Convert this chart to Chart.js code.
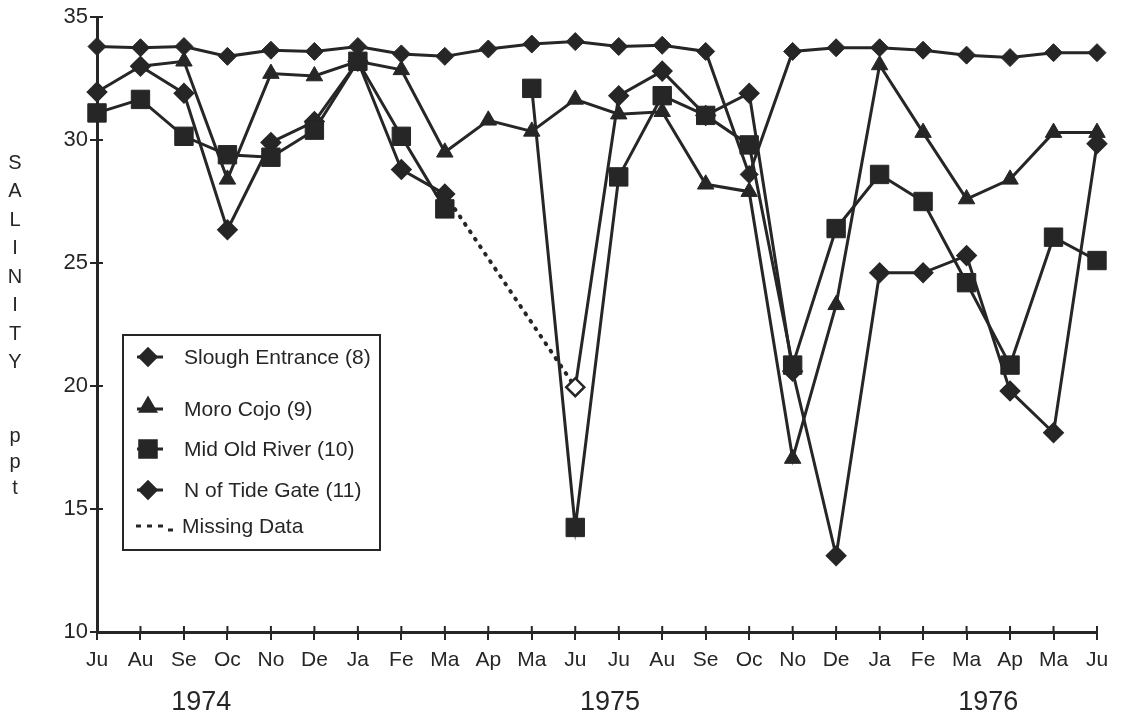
<!DOCTYPE html>
<html>
<head>
<meta charset="utf-8">
<script src="https://cdn.jsdelivr.net/npm/chart.js@4.4.1/dist/chart.umd.min.js"></script>
<style>
  body { margin: 0; background: #fff; }
  canvas { display: block; }
</style>
</head>
<body>
<canvas id="salinity-chart" width="1122" height="719"></canvas>
<script>
/*global Chart */
const months = ['Ju', 'Au', 'Se', 'Oc', 'No', 'De', 'Ja', 'Fe', 'Ma', 'Ap', 'Ma', 'Ju',
  'Ju', 'Au', 'Se', 'Oc', 'No', 'De', 'Ja', 'Fe', 'Ma', 'Ap', 'Ma', 'Ju']
const years = ['1974', '1975', '1976']

const sloughEntrance = [33.8, 33.75, 33.8, 33.4, 33.65, 33.6, 33.8, 33.5, 33.4, 33.7, 33.9, 34.0,
  33.8, 33.85, 33.6, 28.6, 33.6, 33.75, 33.75, 33.65, 33.45, 33.35, 33.55, 33.55]
const moroCojo = [null, 33.0, 33.2, 28.4, 32.7, 32.6, 33.2, 32.85, 29.5, 30.8, 30.35, 31.65,
  31.05, 31.15, 28.2, 27.9, 17.05, 23.3, 33.05, 30.3, 27.6, 28.4, 30.3, 30.3]
const midOldRiver = [31.1, 31.65, 30.15, 29.4, 29.3, 30.4, 33.2, 30.15, 27.2, null, 32.1, 14.25,
  28.5, 31.8, 31.0, 29.8, 20.85, 26.4, 28.6, 27.5, 24.2, 20.85, 26.05, 25.1]
const northOfTideGate = [31.95, 33.0, 31.9, 26.35, 29.9, 30.75, 33.2, 28.8, 27.8, null, null, 19.95,
  31.8, 32.8, 31.0, 31.9, 20.6, 13.1, 24.6, 24.6, 25.3, 19.8, 18.1, 29.85]
const missingData = [null, null, null, null, null, null, null, null, 27.8, null, null, 19.95,
  null, null, null, null, null, null, null, null, null, null, null, null]

const ink = '#262626'
const font = "'Liberation Sans', Arial, Helvetica, sans-serif"

// where the year labels sit, in category index units
const yearAt = [2.4, 11.8, 20.5]

const hollowAt = index => northOfTideGate.map((v, i) => i === index ? '#fff' : ink)

const line = (label, data, pointStyle, radius, extra) => Object.assign({
  label,
  data,
  pointStyle,
  pointRadius: radius,
  borderColor: ink,
  backgroundColor: ink,
  pointBackgroundColor: ink,
  pointBorderColor: ink,
  pointBorderWidth: 1,
  borderWidth: 3,
  tension: 0,
  clip: false,
}, extra || {})

const datasets = [
  line('Slough Entrance (8)', sloughEntrance, 'rectRot', 9),
  line('Moro Cojo (9)', moroCojo, 'triangle', 9.5),
  line('Mid Old River (10)', midOldRiver, 'rect', 13),
  line('N of Tide Gate (11)', northOfTideGate, 'rectRot', 9, {
    pointBackgroundColor: hollowAt(11),
    pointBorderWidth: 2.5,
  }),
  line('Missing Data', missingData, false, 0, {
    borderDash: [1, 8],
    borderCapStyle: 'round',
    borderWidth: 4,
    spanGaps: true,
  }),
]

const decorations = {
  id: 'decorations',
  afterDraw(chart) {
    const { ctx, chartArea, scales } = chart
    const x = scales.x
    const y = scales.y
    ctx.save()
    ctx.strokeStyle = ink
    ctx.fillStyle = ink
    ctx.lineWidth = 2

    // ticks reach a little inside the plot as well
    ctx.beginPath()
    x.ticks.forEach((t, i) => {
      const px = x.getPixelForTick(i)
      ctx.moveTo(px, chartArea.bottom)
      ctx.lineTo(px, chartArea.bottom - 6)
    })
    y.ticks.forEach((t, i) => {
      const py = y.getPixelForTick(i)
      ctx.moveTo(chartArea.left, py)
      ctx.lineTo(chartArea.left + 6, py)
    })
    ctx.stroke()

    // years under the month labels
    const step = x.getPixelForValue(1) - x.getPixelForValue(0)
    ctx.font = `27px ${font}`
    ctx.textAlign = 'center'
    ctx.textBaseline = 'middle'
    years.forEach((year, i) => {
      ctx.fillText(year, x.getPixelForValue(0) + yearAt[i] * step, 703)
    })

    // stacked axis title
    ctx.font = `20px ${font}`
    'SALINITY'.split('').forEach((c, i) => ctx.fillText(c, 15, 163 + i * 28.5))
    'ppt'.split('').forEach((c, i) => ctx.fillText(c, 15, 436 + i * 26))

    // legend box
    const box = { left: 123, top: 335, right: 380, bottom: 550 }
    ctx.lineWidth = 2
    ctx.strokeRect(box.left, box.top, box.right - box.left, box.bottom - box.top)
    const rows = [357, 409, 449, 490]
    ctx.font = `21px ${font}`
    ctx.textAlign = 'left'
    chart.data.datasets.slice(0, 4).forEach((ds, i) => {
      const ry = rows[i]
      ctx.lineWidth = 3
      ctx.setLineDash([])
      ctx.beginPath()
      ctx.moveTo(137, ry)
      ctx.lineTo(163, ry)
      ctx.stroke()
      ctx.fillStyle = ink
      Chart.helpers.drawPoint(ctx, {
        pointStyle: ds.pointStyle,
        radius: ds.pointRadius * 0.9,
        borderWidth: 1,
        rotation: 0,
      }, 148, ds.pointStyle === 'triangle' ? ry - 2 : ry)
      ctx.fillText(ds.label, 184, ry + 1)
    })
    ctx.lineWidth = 3
    ctx.setLineDash([5, 6])
    ctx.beginPath()
    ctx.moveTo(136, 526)
    ctx.lineTo(165, 526)
    ctx.moveTo(168, 530)
    ctx.lineTo(178, 530)
    ctx.stroke()
    ctx.setLineDash([])
    ctx.fillText('Missing Data', 182, 527)
    ctx.restore()
  }
}

new Chart(document.getElementById('salinity-chart').getContext('2d'), {
  type: 'line',
  data: { labels: months, datasets },
  options: {
    responsive: false,
    devicePixelRatio: 1,
    animation: false,
    layout: { padding: { top: 17, right: 25, left: 0, bottom: 0 } },
    plugins: {
      legend: { display: false },
      tooltip: { enabled: false },
    },
    scales: {
      x: {
        offset: false,
        afterFit: scale => { scale.height = 87 },
        grid: { drawOnChartArea: false, color: ink, lineWidth: 2, tickLength: 8 },
        border: { color: ink, width: 3 },
        ticks: {
          color: ink, font: { family: font, size: 21 }, padding: 8,
          maxRotation: 0, autoSkip: false,
        },
      },
      y: {
        min: 10,
        max: 35,
        afterFit: scale => { scale.width = 97 },
        grid: { drawOnChartArea: false, color: ink, lineWidth: 2, tickLength: 7 },
        border: { color: ink, width: 3 },
        ticks: { stepSize: 5, color: ink, font: { family: font, size: 22 }, padding: 2 },
      },
    },
  },
  plugins: [decorations],
})
</script>
</body>
</html>
